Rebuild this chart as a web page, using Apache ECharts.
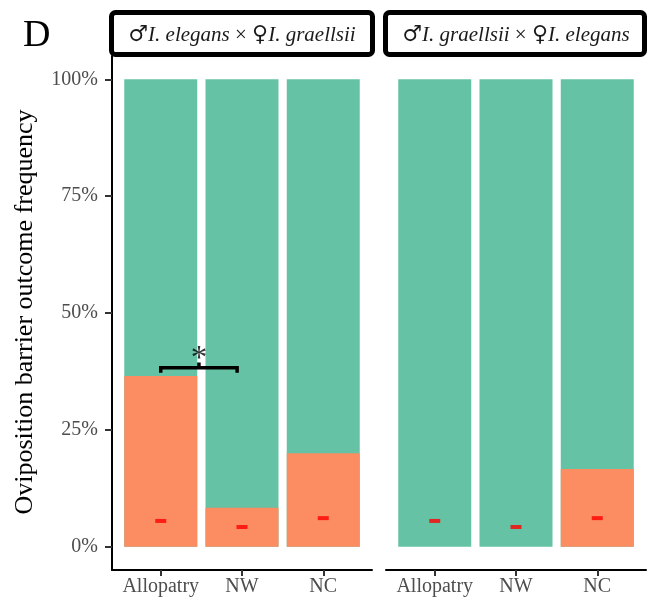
<!DOCTYPE html>
<html>
<head>
<meta charset="utf-8">
<script src="https://cdn.jsdelivr.net/npm/echarts@6/dist/echarts.min.js"></script>
<style>
  html, body { margin: 0; padding: 0; background: #fff; }
  #chart { width: 651px; height: 599px; }
</style>
</head>
<body>
<div id="chart"></div>
<script>
// Crossing sites shown along each x axis
const categories = ['Allopatry', 'NW', 'NC'];
// Facet strip titles (male parent first, female parent second)
const panelMale = ['I. elegans', 'I. graellsii'];
const panelFemale = ['I. graellsii', 'I. elegans'];
// Whole bar = all crosses (100%)
const totalShare = [1, 1, 1];
// Share of crosses stopped by the oviposition barrier, per panel
const barrierLeft = [0.365, 0.083, 0.200];
const barrierRight = [0, 0, 0.166];
// Red "-" markers drawn inside each bar
const markLeft = [0.055, 0.042, 0.061];
const markRight = [0.055, 0.042, 0.061];
// Y axis ticks
const yTicks = [0, 0.25, 0.5, 0.75, 1];
const yTickLabels = ['0%', '25%', '50%', '75%', '100%'];
// Significance bracket between Allopatry and NW (left panel)
const bracketFrom = 1;
const bracketTo = 1.94;
const bracketLevel = 0.383;
const bracketTip = 0.011;
const bracketLabel = '*';

const GREEN = '#66C2A5';
const ORANGE = '#FC8D62';
const SERIF = '"Liberation Serif", "Times New Roman", serif';
const xPos = categories.map((_, i) => i + 1);

function pairs(values) {
  return values.map((v, i) => [xPos[i], v]);
}

function xAxisFor(gridIndex) {
  return {
    gridIndex,
    type: 'value',
    min: 0.4,
    max: 3.6,
    axisLine: { show: true, onZero: false, lineStyle: { color: '#000', width: 2 } },
    axisTick: { show: true, length: 6, customValues: xPos, lineStyle: { color: '#333', width: 2 } },
    axisLabel: {
      customValues: xPos,
      formatter: v => categories[Math.round(v) - 1],
      margin: 7,
      color: '#4d4d4d',
      fontFamily: SERIF,
      fontSize: 20
    },
    splitLine: { show: false }
  };
}

function yAxisFor(gridIndex, visible) {
  return {
    gridIndex,
    type: 'value',
    min: -0.05,
    max: 1.05,
    axisLine: { show: visible, onZero: false, lineStyle: { color: '#000', width: 2 } },
    axisTick: { show: visible, length: 7, customValues: yTicks, lineStyle: { color: '#333', width: 2 } },
    axisLabel: {
      show: visible,
      customValues: yTicks,
      formatter: v => yTickLabels[yTicks.findIndex(t => Math.abs(t - v) < 1e-6)],
      margin: 14,
      color: '#4d4d4d',
      fontFamily: SERIF,
      fontSize: 20
    },
    splitLine: { show: false }
  };
}

function panelSeries(idx, barrier, marks) {
  return [
    {
      type: 'bar', xAxisIndex: idx, yAxisIndex: idx,
      data: pairs(totalShare), barWidth: 73, barGap: '-100%',
      itemStyle: { color: GREEN }, silent: true, z: 2
    },
    {
      type: 'bar', xAxisIndex: idx, yAxisIndex: idx,
      data: pairs(barrier), barWidth: 73, barGap: '-100%',
      itemStyle: { color: ORANGE }, silent: true, z: 3
    },
    {
      type: 'scatter', xAxisIndex: idx, yAxisIndex: idx,
      data: pairs(marks), symbol: 'rect', symbolSize: [11, 4],
      itemStyle: { color: '#FF0000' }, silent: true, z: 4
    }
  ];
}

const bracketMid = (bracketFrom + bracketTo) / 2;

const series = [
  ...panelSeries(0, barrierLeft, markLeft),
  ...panelSeries(1, barrierRight, markRight),
  {
    type: 'line', xAxisIndex: 0, yAxisIndex: 0,
    data: [
      [bracketFrom, bracketLevel - bracketTip],
      [bracketFrom, bracketLevel],
      [bracketTo, bracketLevel],
      [bracketTo, bracketLevel - bracketTip]
    ],
    symbol: 'none', silent: true, z: 5, animation: false,
    lineStyle: { color: '#000', width: 3.5, cap: 'butt', join: 'miter' }
  },
  {
    type: 'line', xAxisIndex: 0, yAxisIndex: 0,
    data: [[bracketMid, bracketLevel], [bracketMid, bracketLevel + bracketTip]],
    symbol: 'none', silent: true, z: 5, animation: false,
    lineStyle: { color: '#000', width: 3.5, cap: 'butt' }
  },
  {
    type: 'scatter', xAxisIndex: 0, yAxisIndex: 0,
    data: [[bracketMid, bracketLevel + 0.017]],
    symbolSize: 0, silent: true, z: 6,
    label: {
      show: true, position: 'inside', formatter: bracketLabel,
      color: '#000', fontFamily: SERIF, fontSize: 33
    }
  }
];

function stripTitle(i) {
  return '{s|♂}{i|' + panelMale[i] + '}{x| × }{s|♀}{i|' + panelFemale[i] + '}';
}

const stripRich = {
  i: { fontFamily: SERIF, fontStyle: 'italic', fontSize: 21, fill: '#1a1a1a' },
  x: { fontFamily: SERIF, fontSize: 21, fill: '#1a1a1a' },
  s: { fontFamily: '"DejaVu Serif", serif', fontSize: 22, fill: '#1a1a1a' }
};

const chart = echarts.init(document.getElementById('chart'), null, { renderer: 'canvas' });
chart.setOption({
  animation: false,
  backgroundColor: '#fff',
  grid: [
    { left: 112, top: 56, width: 260, height: 514, containLabel: false, outerBoundsMode: 'none' },
    { left: 386, top: 56, width: 260, height: 514, containLabel: false, outerBoundsMode: 'none' }
  ],
  xAxis: [xAxisFor(0), xAxisFor(1)],
  yAxis: [yAxisFor(0, true), yAxisFor(1, false)],
  series,
  graphic: [
    {
      type: 'rect', shape: { x: 111.5, y: 12.5, width: 261, height: 42, r: 4 },
      style: { fill: '#fff', stroke: '#000', lineWidth: 5 }, z: 10
    },
    {
      type: 'rect', shape: { x: 385.5, y: 12.5, width: 259, height: 42, r: 4 },
      style: { fill: '#fff', stroke: '#000', lineWidth: 5 }, z: 10
    },
    {
      type: 'text', x: 242, y: 35, z: 11,
      style: { text: stripTitle(0), rich: stripRich, align: 'center', verticalAlign: 'middle' }
    },
    {
      type: 'text', x: 516, y: 35, z: 11,
      style: { text: stripTitle(1), rich: stripRich, align: 'center', verticalAlign: 'middle' }
    },
    {
      type: 'text', x: 23, y: 36, z: 11,
      style: { text: 'D', font: '38px ' + SERIF, fill: '#000', align: 'left', verticalAlign: 'middle' }
    },
    {
      type: 'text', x: 25, y: 312, rotation: Math.PI / 2, z: 11,
      style: {
        text: 'Oviposition barrier outcome frequency',
        font: '26px ' + SERIF, fill: '#000', align: 'center', verticalAlign: 'middle'
      }
    }
  ]
});
</script>
</body>
</html>
